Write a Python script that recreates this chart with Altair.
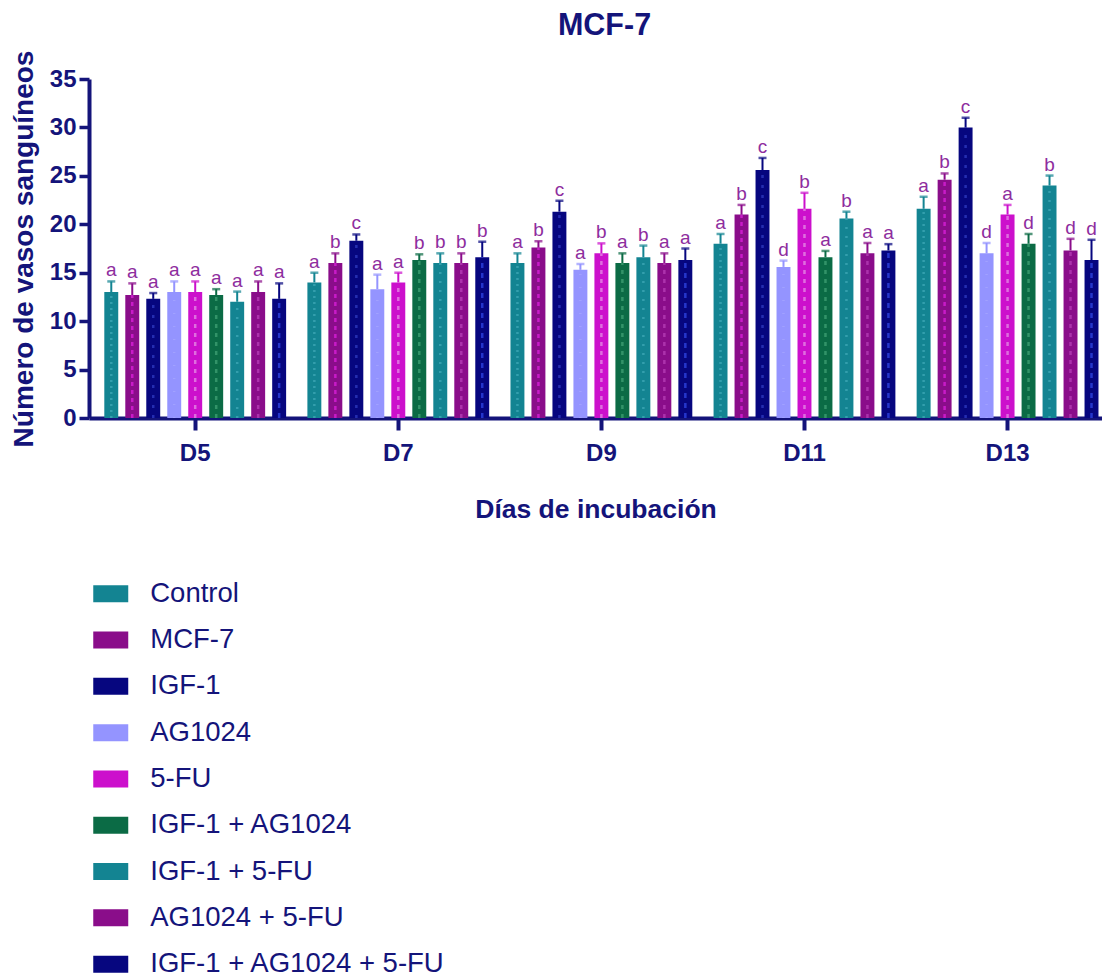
import altair as alt
import pandas as pd

days = ["D5", "D7", "D9", "D11", "D13"]
groups = ["Control", "MCF-7", "IGF-1", "AG1024", "5-FU",
          "IGF-1 + AG1024", "IGF-1 + 5-FU", "AG1024 + 5-FU", "IGF-1 + AG1024 + 5-FU"]
colors = ["#138492", "#8a0d8a", "#06067f", "#9494ff", "#cc10cc",
          "#0b6b45", "#138492", "#8a0d8a", "#06067f"]
pattern_colors = ["#3aa3b2", "#d21fd2", "#2a35b8", "#a3a3ff", "#e27ee2",
                  "#3a9a6e", "#3aa3b2", "#b23ab2", "#2a3ed8"]
pattern_dashes = [[2, 4], [4, 4], [3, 7], [1, 12], [4, 5],
                  [4, 5], [2, 7], [4, 5], [5, 5]]

d5_mean = [13.0, 12.7, 12.3, 13.0, 13.0, 12.7, 12.0, 13.0, 12.3]
d7_mean = [14.0, 16.0, 18.3, 13.3, 14.0, 16.3, 16.0, 16.0, 16.6]
d9_mean = [16.0, 17.6, 21.3, 15.3, 17.0, 16.0, 16.6, 16.0, 16.3]
d11_mean = [18.0, 21.0, 25.6, 15.6, 21.6, 16.6, 20.6, 17.0, 17.3]
d13_mean = [21.6, 24.6, 30.0, 17.0, 21.0, 18.0, 24.0, 17.3, 16.3]

d5_err = [1.1, 1.2, 0.6, 1.1, 1.1, 0.6, 1.05, 1.1, 1.6]
d7_err = [1.0, 1.0, 0.65, 1.5, 1.0, 0.6, 1.0, 1.0, 1.6]
d9_err = [1.0, 0.65, 1.13, 0.6, 1.03, 1.0, 1.2, 1.0, 1.2]
d11_err = [1.0, 1.0, 1.25, 0.65, 1.65, 0.65, 0.7, 1.07, 0.65]
d13_err = [1.24, 0.65, 1.0, 1.07, 1.0, 1.0, 1.03, 1.2, 2.1]

d5_letters = ["a", "a", "a", "a", "a", "a", "a", "a", "a"]
d7_letters = ["a", "b", "c", "a", "a", "b", "b", "b", "b"]
d9_letters = ["a", "b", "c", "a", "b", "a", "b", "a", "a"]
d11_letters = ["a", "b", "c", "d", "b", "a", "b", "a", "a"]
d13_letters = ["a", "b", "c", "d", "a", "d", "b", "d", "d"]

means = [d5_mean, d7_mean, d9_mean, d11_mean, d13_mean]
errs = [d5_err, d7_err, d9_err, d11_err, d13_err]
letters = [d5_letters, d7_letters, d9_letters, d11_letters, d13_letters]

rows = []
for day, m, e, l in zip(days, means, errs, letters):
    for g, mv, ev, lv in zip(groups, m, e, l):
        rows.append({"day": day, "group": g, "mean": mv, "zero": 0,
                     "upper": round(mv + ev, 3), "letter": lv})
df = pd.DataFrame(rows)

NAVY = "#14147a"
LETTER = "#8e2d9e"
FONT = "Liberation Sans"
YTITLE = "Número de vasos sanguíneos"

x = alt.X("day:N", sort=days, title="Días de incubación",
          scale=alt.Scale(paddingInner=0.07, paddingOuter=0.029, align=1),
          axis=alt.Axis(labelAngle=0, labelFontSize=24, labelFontWeight="bold",
                        labelFont=FONT, labelColor=NAVY, labelPadding=11,
                        titleFontSize=26.5, titleFontWeight="bold", titleFont=FONT,
                        titleColor=NAVY, titlePadding=31,
                        domainColor=NAVY, domainWidth=4, tickColor=NAVY,
                        tickWidth=4, tickSize=12))
xo = alt.XOffset("group:N", sort=groups,
                 scale=alt.Scale(paddingInner=0.336, paddingOuter=0.168))
color_scale = alt.Scale(domain=groups, range=colors)
y_scale = alt.Scale(domain=[0, 35], nice=False)

y_axis = alt.Axis(values=[0, 5, 10, 15, 20, 25, 30, 35], grid=False,
                  labelFontSize=24, labelFontWeight="bold", labelFont=FONT,
                  labelColor=NAVY, labelPadding=3,
                  titleFontSize=28, titleFontWeight="bold", titleFont=FONT,
                  titleColor=NAVY, titlePadding=11,
                  domainColor=NAVY, domainWidth=4, tickColor=NAVY,
                  tickWidth=3.5, tickSize=10)

legend = alt.Legend(orient="none", legendX=8, legendY=501, title=None,
                    symbolType="M-2,-0.97H2V0.97H-2Z", symbolSize=306,
                    symbolStrokeWidth=0, symbolOpacity=1,
                    labelFontSize=27.5, labelFont=FONT, labelColor=NAVY,
                    labelOffset=25.75, rowPadding=17.3, padding=0, labelLimit=0)

base = alt.Chart(df).encode(x=x, xOffset=xo)

bars = base.mark_bar().encode(
    y=alt.Y("mean:Q", title=YTITLE, scale=y_scale, axis=y_axis),
    color=alt.Color("group:N", sort=groups, scale=color_scale, legend=legend),
)

pattern = base.mark_rule(strokeWidth=2.5, opacity=0.85).encode(
    y=alt.Y("zero:Q", title=YTITLE, scale=y_scale, axis=y_axis),
    y2="mean:Q",
    stroke=alt.Stroke("group:N", sort=groups,
                      scale=alt.Scale(domain=groups, range=pattern_colors),
                      legend=None),
    strokeDash=alt.StrokeDash("group:N", sort=groups,
                              scale=alt.Scale(domain=groups, range=pattern_dashes),
                              legend=None),
)

err = base.mark_rule(strokeWidth=2).encode(
    y=alt.Y("mean:Q", title=YTITLE, scale=y_scale, axis=y_axis),
    y2="upper:Q",
    color=alt.Color("group:N", sort=groups, scale=color_scale, legend=legend),
)

cap = base.mark_tick(thickness=2.5, size=8, orient="horizontal").encode(
    y=alt.Y("upper:Q", title=YTITLE, scale=y_scale, axis=y_axis),
    color=alt.Color("group:N", sort=groups, scale=color_scale, legend=legend),
)

txt = base.mark_text(baseline="alphabetic", dy=-5, fontSize=19, font=FONT,
                     color=LETTER).encode(
    y=alt.Y("upper:Q", title=YTITLE, scale=y_scale, axis=y_axis),
    text="letter:N",
)

chart = alt.layer(bars, pattern, err, cap, txt).properties(
    width=1013, height=339,
    padding={"left": 2, "top": 2, "right": 0, "bottom": 0},
    title=alt.TitleParams("MCF-7", fontSize=30.5, font=FONT, fontWeight="bold",
                          color=NAVY, offset=9, anchor="middle", dx=9),
).configure_view(stroke=None)

chart.save("out.html", embed_options={"renderer": "svg", "actions": False})
